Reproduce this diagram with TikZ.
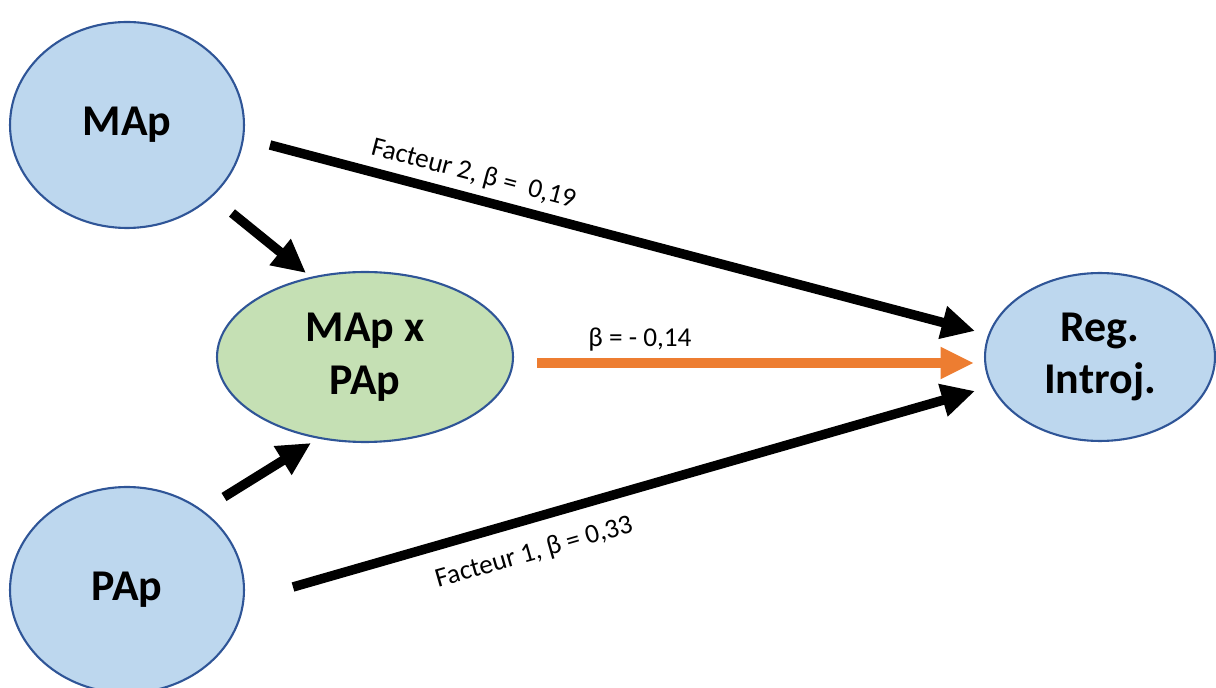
\documentclass[tikz,border=0pt]{standalone}
\usepackage{fontspec}
\setmainfont{Carlito}
\usetikzlibrary{arrows.meta,shapes.geometric}
\definecolor{nodeblue}{HTML}{BDD7EE}
\definecolor{nodegreen}{HTML}{C5E0B4}
\definecolor{borderblue}{HTML}{2F5597}
\definecolor{arrorange}{HTML}{ED7D31}
\begin{document}
\begin{tikzpicture}[x=0.02cm,y=-0.02cm,
  ell/.style={draw=borderblue,line width=1.2pt,ellipse,inner sep=0pt,align=center,font=\fontsize{25}{30}\selectfont\bfseries},
  blueell/.style={ell,fill=nodeblue},
  greenell/.style={ell,fill=nodegreen},
  bigarrow/.style={line width=5.4pt,-{Triangle[length=19pt,width=18pt]}},
  lbl/.style={font=\fontsize{15.5}{18}\selectfont,inner sep=0pt}
]
\useasboundingbox (0,0) rectangle (1216,688);
\node[blueell,minimum width=4.68cm,minimum height=4.12cm] (MAp) at (127,125) {MAp};
\node[blueell,minimum width=4.68cm,minimum height=4.12cm] (PAp) at (127,590) {PAp};
\node[greenell,minimum width=5.92cm,minimum height=3.4cm] (Inter) at (365,357) {MAp x\\PAp};
\node[blueell,minimum width=4.6cm,minimum height=3.36cm] (Reg) at (1100,357) {Reg.\\Introj.};

\coordinate (a1s) at (270,145);
\coordinate (a1e) at (975,331);
\coordinate (a2s) at (232,213);
\coordinate (a2e) at (306,273);
\coordinate (a3s) at (224,497);
\coordinate (a3e) at (311,443);
\coordinate (a4s) at (293,587);
\coordinate (a4e) at (975,391);
\coordinate (a5s) at (537,363);
\coordinate (a5e) at (974,363);

\draw[bigarrow] (a1s) -- (a1e) node[lbl,pos=0.28,above=4pt,sloped] {Facteur 2, β =\ \ 0,19};
\draw[bigarrow] (a2s) -- (a2e);
\draw[bigarrow] (a3s) -- (a3e);
\draw[bigarrow] (a4s) -- (a4e) node[lbl,pos=0.34,below=10pt,sloped] {Facteur 1, β = 0,33};
\draw[bigarrow,draw=arrorange,-{Triangle[length=19pt,width=17pt,fill=arrorange]},color=arrorange] (a5s) -- (a5e);
\node[lbl] (b14) at (640,340) {β = - 0,14};
\end{tikzpicture}
\end{document}
